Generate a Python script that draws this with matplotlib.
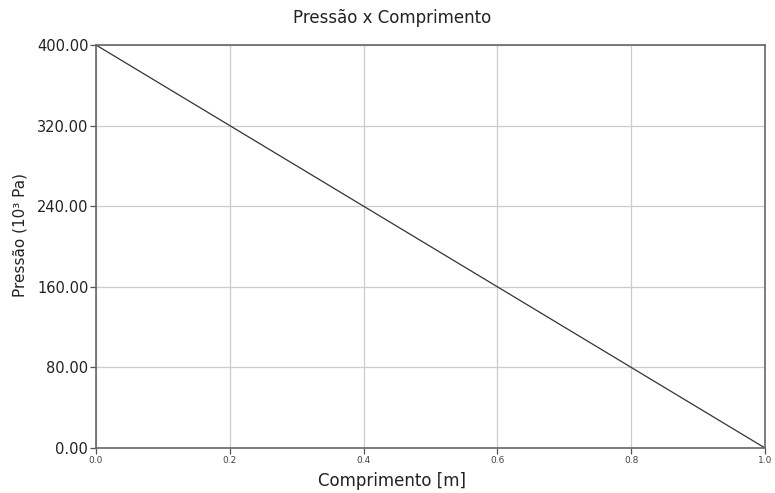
import matplotlib
matplotlib.use("Agg")
import matplotlib.pyplot as plt

comprimento = [0.0, 0.2, 0.4, 0.6, 0.8, 1.0]
pressao = [400.0, 320.0, 240.0, 160.0, 80.0, 0.0]
xticks = [0.0, 0.2, 0.4, 0.6, 0.8, 1.0]
yticks = [0, 80, 160, 240, 320, 400]

plt.rcParams['font.family'] = ['DejaVu Sans']
fig = plt.figure(figsize=(7.75, 4.93), dpi=100)
ax = fig.add_axes([96/775, 1-448/493, (765-96)/775, (448-45)/493])
ax.plot(comprimento, pressao, color='#333333', linewidth=0.9)
ax.set_xlim(0, 1)
ax.set_ylim(0, 400)
ax.set_xticks(xticks)
ax.set_yticks(yticks)
ax.set_xticklabels([f"{v:.1f}" for v in xticks], fontsize=6.5, color='#444444')
ax.set_yticklabels([f"{v:.2f}" for v in yticks], fontsize=10.5, color='#222222')
ax.grid(True, color='#cccccc', linewidth=0.9)
ax.set_axisbelow(True)
for s in ax.spines.values():
    s.set_color('#666666')
    s.set_linewidth(1.2)
ax.tick_params(axis='both', length=4, width=0.9, color='#555555', pad=1.5)
ax.set_xlabel("Comprimento [m]", fontsize=12, color='#222222')
ax.xaxis.set_label_coords((392-96)/669, (448-472)/403)
ax.set_ylabel("Pressão (10³ Pa)", fontsize=11, color='#222222')
ax.yaxis.set_label_coords(-(96-28)/669, (448-235)/403)
fig.suptitle("Pressão x Comprimento", fontsize=12, color='#222222',
             x=392/775, y=1-18/493, va='center')
fig.savefig("out.png", dpi=100, facecolor='white')
